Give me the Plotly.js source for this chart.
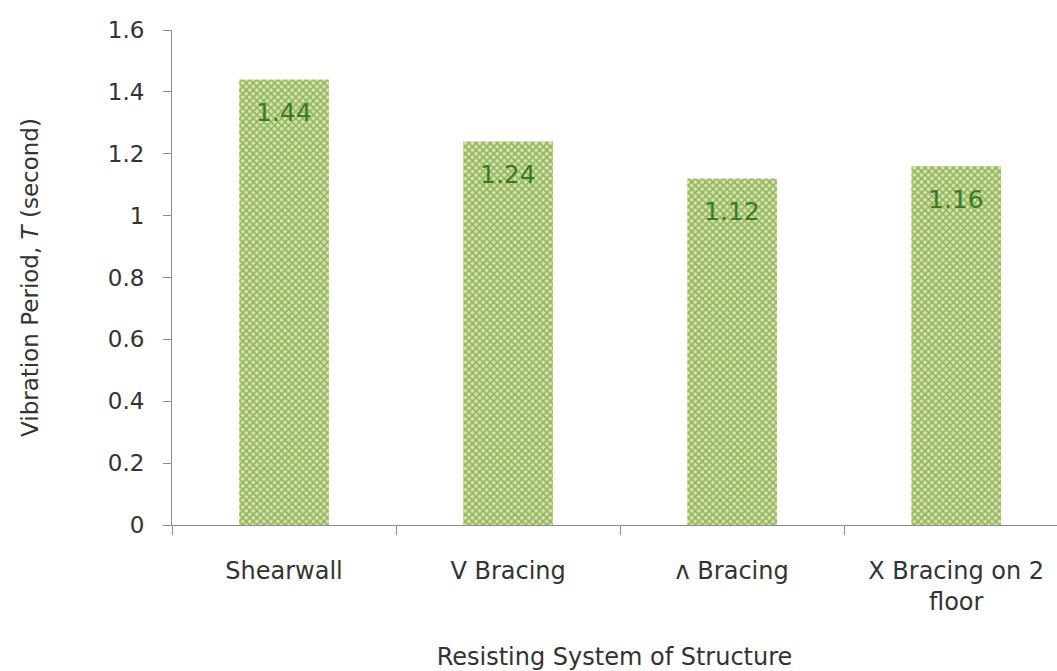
<!DOCTYPE html>
<html><head><meta charset="utf-8">
<script src="https://cdn.plot.ly/plotly-3.0.1.min.js"></script>
<style>html,body{margin:0;padding:0;background:#fff}#chart{width:1057px;height:671px}</style>
</head><body><div id="chart"></div>
<script>
const categories = ["Shearwall", "V Bracing", "\u028c Bracing", "X Bracing on 2<br>floor"];
const periods = [1.44, 1.24, 1.12, 1.16];
const yTicks = [0, 0.2, 0.4, 0.6, 0.8, 1, 1.2, 1.4, 1.6];
const yTickText = ["0", "0.2", "0.4", "0.6", "0.8", "1", "1.2", "1.4", "1.6"];

const FONT = "'DejaVu Sans', sans-serif";
const TXT = "#333333";
const trace = {
  type: "bar",
  x: categories,
  y: periods,
  width: 0.4,
  marker: {
    color: "#c9dba3",
    line: {width: 0},
    pattern: {shape: "x", fgcolor: "#92b356", bgcolor: "#d2e2b0", size: 5, solidity: 0.5}
  },
  hoverinfo: "skip"
};
const annotations = categories.map((c, i) => ({
  x: c, y: periods[i], xref: "x", yref: "y",
  text: periods[i].toFixed(2), showarrow: false, yshift: -33,
  font: {family: FONT, size: 25, color: "#3a7a22"}
}));
const layout = {
  width: 1057, height: 671,
  margin: {l: 172, r: 0, t: 30, b: 146},
  paper_bgcolor: "#fff", plot_bgcolor: "#fff",
  showlegend: false,
  font: {family: FONT, size: 24, color: TXT},
  xaxis: {
    type: "category",
    range: [-0.5, 3.45],
    showline: true, linecolor: "#8c8c8c", linewidth: 1,
    ticks: "outside", tickson: "boundaries", ticklen: 9, tickcolor: "#8c8c8c",
    ticklabelstandoff: 24,
    showgrid: false, zeroline: false,
    tickfont: {family: FONT, size: 24, color: TXT},
    title: {text: "Resisting System of Structure", font: {family: FONT, size: 24, color: TXT}, standoff: 34}
  },
  yaxis: {
    range: [0, 1.6],
    tickvals: yTicks, ticktext: yTickText,
    showline: true, linecolor: "#8c8c8c", linewidth: 1,
    ticks: "outside", ticklen: 8, tickcolor: "#8c8c8c",
    ticklabelstandoff: 14,
    showgrid: false, zeroline: false,
    tickfont: {family: FONT, size: 23, color: TXT},
    title: {text: "Vibration Period, <i>T</i> (second)", font: {family: FONT, size: 23, color: TXT}, standoff: 62}
  },
  annotations: annotations
};
Plotly.newPlot("chart", [trace], layout, {displayModeBar: false, staticPlot: true});
</script></body></html>
